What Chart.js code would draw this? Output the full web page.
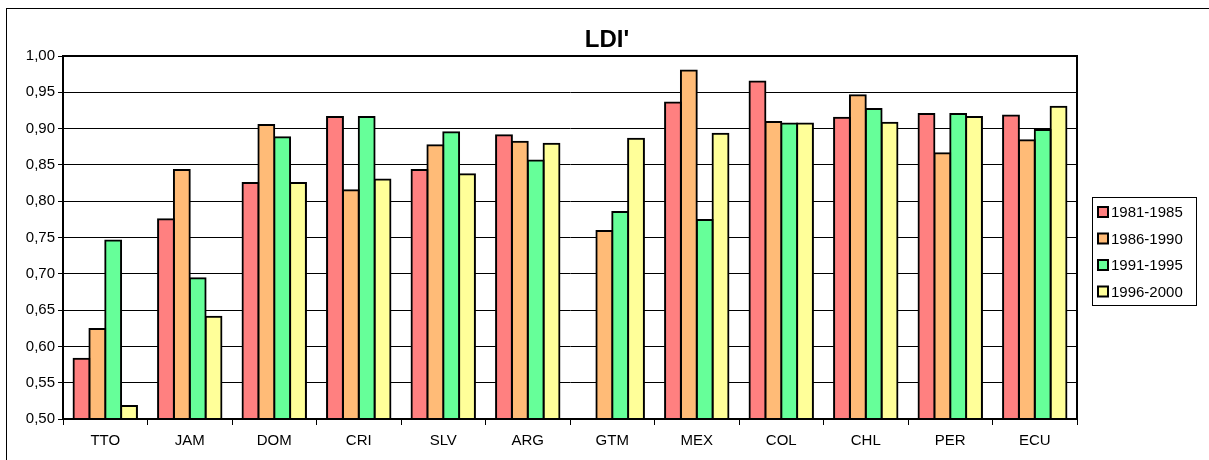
<!DOCTYPE html>
<html>
<head>
<meta charset="utf-8">
<script src="https://cdn.jsdelivr.net/npm/chart.js@4"></script>
<style>
  html, body { margin: 0; padding: 0; background: #fff; }
  #wrap { position: relative; width: 1209px; height: 460px; }
</style>
</head>
<body>
<div id="wrap"><canvas id="chart" width="1209" height="460"></canvas></div>
<script>
const countries = ["TTO", "JAM", "DOM", "CRI", "SLV", "ARG", "GTM", "MEX", "COL", "CHL", "PER", "ECU"];
const periods = ["1981-1985", "1986-1990", "1991-1995", "1996-2000"];
const colors = ["#ff8080", "#ffbb77", "#66ff99", "#ffff99"];

const v1981 = [0.583, 0.775, 0.825, 0.916, 0.843, 0.891, null, 0.936, 0.965, 0.915, 0.920, 0.918];
const v1986 = [0.624, 0.843, 0.905, 0.815, 0.877, 0.882, 0.759, 0.980, 0.909, 0.946, 0.866, 0.884];
const v1991 = [0.746, 0.694, 0.888, 0.916, 0.895, 0.856, 0.785, 0.774, 0.907, 0.927, 0.920, 0.898];
const v1996 = [0.518, 0.641, 0.825, 0.830, 0.837, 0.879, 0.886, 0.893, 0.907, 0.908, 0.916, 0.930];

const seriesValues = [v1981, v1986, v1991, v1996];
const yTicks = [0.50, 0.55, 0.60, 0.65, 0.70, 0.75, 0.80, 0.85, 0.90, 0.95, 1.00];

const font = "Arial, 'Liberation Sans', sans-serif";

// frame, title and legend drawn by hand to look like the Excel original
const decor = {
  id: "decor",
  afterDraw(chart) {
    const ctx = chart.ctx;
    const a = chart.chartArea;
    ctx.save();
    // outer border
    ctx.strokeStyle = "#000";
    ctx.lineWidth = 1;
    ctx.strokeRect(6.5, 8.5, 1300, 600);
    // plot frame
    ctx.lineWidth = 2;
    ctx.strokeRect(a.left, a.top, a.right - a.left, a.bottom - a.top);
    // title
    ctx.fillStyle = "#000";
    ctx.font = "bold 24px " + font;
    ctx.textAlign = "center";
    ctx.textBaseline = "middle";
    ctx.fillText("LDI'", 607, 40);
    // legend
    const lx = 1092, ly = 197, lw = 104, lh = 108;
    ctx.lineWidth = 1;
    ctx.strokeRect(lx + 0.5, ly + 0.5, lw, lh);
    ctx.font = "15px " + font;
    ctx.textAlign = "left";
    chart.data.datasets.forEach((ds, i) => {
      const cy = ly + 15 + i * 26.5;
      ctx.fillStyle = ds.backgroundColor;
      ctx.fillRect(lx + 6, cy - 5, 10, 10);
      ctx.lineWidth = 2;
      ctx.strokeStyle = "#000";
      ctx.strokeRect(lx + 6, cy - 5, 10, 10);
      ctx.fillStyle = "#000";
      ctx.fillText(ds.label, lx + 19, cy + 1);
    });
    ctx.restore();
  }
};

new Chart(document.getElementById("chart"), {
  type: "bar",
  data: {
    labels: countries,
    datasets: periods.map((p, i) => ({
      label: p,
      data: seriesValues[i],
      backgroundColor: colors[i],
      borderColor: "#000",
      borderWidth: 2,
      borderSkipped: "bottom",
      inflateAmount: 1,
      categoryPercentage: 0.75,
      barPercentage: 1.0
    }))
  },
  options: {
    responsive: false,
    animation: false,
    layout: { padding: { top: 56, right: 132, left: 0, bottom: 0 } },
    plugins: {
      legend: { display: false },
      title: { display: false },
      tooltip: { enabled: false }
    },
    scales: {
      x: {
        grid: {
          drawOnChartArea: false,
          drawTicks: true,
          tickLength: 6,
          color: "#000",
          lineWidth: 1
        },
        border: { color: "#000", width: 2 },
        ticks: {
          color: "#000",
          font: { family: font, size: 15 },
          padding: 7,
          maxRotation: 0
        },
        afterFit: scale => { scale.height = 41; }
      },
      y: {
        min: 0.5,
        max: 1.0,
        afterBuildTicks: scale => { scale.ticks = yTicks.map(v => ({ value: v })); },
        grid: {
          color: "#000",
          lineWidth: 1,
          tickLength: 5
        },
        border: { color: "#000", width: 2 },
        ticks: {
          color: "#000",
          font: { family: font, size: 15 },
          padding: 3,
          callback: v => v.toFixed(2).replace(".", ",")
        },
        afterFit: scale => { scale.width = 63; }
      }
    }
  },
  plugins: [decor]
});
</script>
</body>
</html>
